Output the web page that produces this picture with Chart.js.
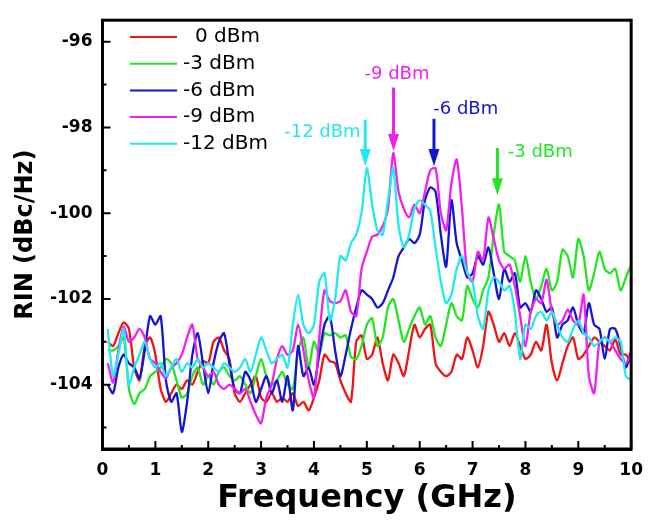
<!DOCTYPE html>
<html>
<head>
<meta charset="utf-8">
<script src="https://cdn.jsdelivr.net/npm/chart.js@4.4.1/dist/chart.umd.min.js"></script>
<style>
  html, body { margin: 0; padding: 0; background: #fff; }
</style>
</head>
<body>
<canvas id="chart" width="654" height="521"></canvas>
<script>
'use strict';

// frequency grid (GHz)
const freqGHz = [0.1, 0.2, 0.3, 0.4, 0.5, 0.6, 0.7, 0.8, 0.9, 1.0,
  1.1, 1.2, 1.3, 1.4, 1.5, 1.6, 1.7, 1.8, 1.9, 2.0,
  2.1, 2.2, 2.3, 2.4, 2.5, 2.6, 2.7, 2.8, 2.9, 3.0,
  3.1, 3.2, 3.3, 3.4, 3.5, 3.6, 3.7, 3.8, 3.9, 4.0,
  4.1, 4.2, 4.3, 4.4, 4.5, 4.6, 4.7, 4.8, 4.9, 5.0,
  5.1, 5.2, 5.3, 5.4, 5.5, 5.6, 5.7, 5.8, 5.9, 6.0,
  6.1, 6.2, 6.3, 6.4, 6.5, 6.6, 6.7, 6.8, 6.9, 7.0,
  7.1, 7.2, 7.3, 7.4, 7.5, 7.6, 7.7, 7.8, 7.9, 8.0,
  8.1, 8.2, 8.3, 8.4, 8.5, 8.6, 8.7, 8.8, 8.9, 9.0,
  9.1, 9.2, 9.3, 9.4, 9.5, 9.6, 9.7, 9.8, 9.9, 10.0];

// RIN (dBc/Hz) per optical power
const rin0dBm = [-103.0, -103.1, -102.8, -102.55, -102.7, -103.6, -103.9, -103.1, -102.9, -103.3,
  -104.1, -104.4, -104.2, -104.0, -104.1, -103.9, -104.0, -103.7, -103.45, -103.5,
  -103.0, -102.9, -103.2, -103.4, -104.2, -104.4, -104.2, -104.0, -103.8, -104.3,
  -104.4, -104.2, -104.4, -104.3, -104.4, -104.2, -104.5, -104.4, -104.6, -104.3,
  -103.9, -103.3, -103.45, -103.5, -103.9, -104.2, -104.4, -103.0, -102.85, -103.4,
  -103.3, -102.9, -103.5, -103.9, -103.3, -103.5, -103.8, -103.2, -102.6, -102.9,
  -102.7, -102.6, -103.5, -103.7, -103.8, -103.7, -103.3, -103.4, -102.9, -103.2,
  -103.6, -103.1, -102.3, -102.6, -103.0, -102.8, -103.1, -102.8, -103.1, -103.4,
  -103.3, -103.0, -103.2, -102.6, -103.5, -103.9, -103.5, -103.1, -102.9, -103.4,
  -103.3, -103.1, -102.9, -103.0, -103.1, -103.2, -102.95, -103.3, -103.3, -103.5];

const rinM3dBm = [-103.2, -103.2, -103.1, -102.9, -104.1, -104.45, -104.2, -104.1, -103.8, -103.7,
  -103.6, -103.4, -103.5, -103.9, -104.3, -104.2, -103.8, -103.6, -104.0, -103.8,
  -104.0, -103.7, -103.6, -103.8, -103.9, -103.8, -104.0, -104.2, -103.8, -103.4,
  -103.8, -104.0, -103.9, -103.7, -104.0, -104.1, -103.2, -102.9, -103.6, -103.0,
  -103.3, -102.8, -102.85, -102.8, -102.9, -102.85, -103.35, -103.4, -103.1, -102.6,
  -102.45, -103.1, -102.9, -102.2, -102.0, -102.5, -103.0, -102.7, -102.4, -102.2,
  -102.6, -102.4, -102.9, -103.1, -102.6, -102.1, -102.4, -102.5, -101.7, -102.0,
  -102.2, -101.8, -101.5, -100.5, -99.8, -100.9, -101.0, -101.1, -101.6, -101.0,
  -101.6, -102.0, -101.7, -101.3, -101.8, -101.6, -100.85, -101.0, -101.5, -100.6,
  -101.0, -101.8, -101.4, -100.9, -101.3, -101.4, -101.3, -101.8, -101.5, -101.2];

const rinM6dBm = [-104.0, -104.2, -103.6, -103.3, -103.5, -103.6, -103.85, -103.2, -102.4, -102.6,
  -102.4, -103.9, -104.4, -104.2, -105.1, -104.4, -103.3, -102.8, -103.5, -104.2,
  -103.5, -103.0, -102.8, -103.5, -104.1, -104.2, -103.7, -103.9, -104.4, -104.1,
  -103.8, -104.2, -103.9, -104.4, -103.8, -104.6, -103.1, -103.8, -103.6, -104.0,
  -103.3, -102.6, -102.4, -103.2, -103.8, -103.3, -102.7, -102.2, -101.8, -101.9,
  -102.0, -102.2, -102.1, -101.8, -101.5, -101.0, -100.8, -100.6, -100.7, -100.5,
  -99.7, -99.4, -99.5, -100.5, -101.25, -99.7, -100.7, -101.1, -101.5, -101.4,
  -101.0, -101.2, -100.8, -101.4, -102.0, -101.3, -101.6, -101.4, -102.2, -102.1,
  -102.3, -101.8, -102.0, -102.3, -102.2, -102.9, -102.6, -102.5, -102.2, -102.6,
  -102.8, -102.1, -102.6, -102.7, -103.4, -102.7, -102.7, -103.1, -103.6, -103.2];

const rinM9dBm = [-103.5, -103.95, -103.2, -102.65, -103.0, -102.9, -102.7, -102.9, -103.4, -103.5,
  -103.7, -103.85, -103.6, -103.5, -103.3, -102.9, -102.6, -103.4, -103.6, -103.8,
  -103.7, -104.0, -104.1, -104.0, -104.1, -104.2, -104.1, -104.4, -104.7, -104.9,
  -104.3, -104.0, -103.4, -103.1, -103.3, -103.2, -102.6, -103.2, -103.9, -104.3,
  -102.9, -101.8, -102.05, -102.1, -102.05, -101.8, -102.3, -102.4, -101.3, -100.9,
  -100.55, -100.5, -100.3, -99.9, -98.6, -99.5, -99.9, -100.1, -99.8, -100.0,
  -99.5, -99.0, -98.95, -100.0, -100.4, -99.3, -98.75, -99.9, -101.4, -101.6,
  -100.9, -101.1, -100.1, -100.6, -101.1, -101.3, -101.2, -101.7, -102.4, -103.1,
  -102.3, -102.0, -102.1, -101.55, -102.3, -102.6, -102.5, -102.25, -102.5, -102.6,
  -101.9, -103.8, -104.2, -103.0, -102.9, -103.0, -103.2, -103.4, -103.5, -103.3];

const rinM12dBm = [-102.7, -103.8, -103.3, -102.7, -104.0, -103.6, -103.3, -103.0, -103.4, -103.6,
  -103.5, -103.8, -103.6, -103.4, -103.7, -103.5, -103.6, -103.4, -103.6, -103.5,
  -103.6, -103.7, -103.5, -103.6, -103.7, -103.6, -103.4, -103.7, -103.3, -102.9,
  -103.2, -103.5, -103.4, -103.3, -103.6, -102.6, -101.9, -102.6, -102.8, -102.6,
  -101.6, -101.4, -102.5, -102.0, -101.0, -101.1, -100.7, -100.5, -100.0, -98.95,
  -99.8, -100.4, -100.5, -99.7, -98.95, -100.3, -100.8, -100.5, -99.9, -99.7,
  -99.8, -99.95, -100.8, -101.6, -102.1, -101.9, -101.3, -101.0, -101.4, -101.6,
  -102.4, -102.7, -101.8, -101.5, -101.6, -101.8, -101.7, -102.3, -103.4, -102.6,
  -102.7, -102.4, -102.3, -102.5, -102.3, -102.6, -102.9, -103.0, -102.7, -102.5,
  -102.8, -102.9, -103.1, -103.0, -102.9, -103.0, -102.9, -103.0, -103.8, -103.9];

const seriesLabels = ['0 dBm', '-3 dBm', '-6 dBm', '-9 dBm', '-12 dBm'];
const seriesColors = ['#f01414', '#22e622', '#1414d2', '#f020f0', '#22e8f0'];

// axis ticks
const xTickValues = [0, 1, 2, 3, 4, 5, 6, 7, 8, 9, 10];
const xMinorValues = [0.5, 1.5, 2.5, 3.5, 4.5, 5.5, 6.5, 7.5, 8.5, 9.5];
const yTickValues = [-104, -102, -100, -98, -96];
const yMinorValues = [-105, -103, -101, -99, -97];

// peak markers: label, frequency, arrow top, arrow tip, label position
const markLabels = ['-12 dBm', '-9 dBm', '-6 dBm', '-3 dBm'];
const markColors = ['#22e8f0', '#f020f0', '#1414d2', '#22e622'];
const markFreq = [4.97, 5.505, 6.27, 7.47];
const markTop = [-97.82, -97.07, -97.8, -98.48];
const markTip = [-98.9, -98.55, -98.9, -99.58];
const markTextX = [4.16, 5.57, 6.87, 8.28];
const markTextY = [-98.12, -96.77, -97.57, -98.58];

const seriesData = [rin0dBm, rinM3dBm, rinM6dBm, rinM9dBm, rinM12dBm];

const datasets = seriesData.map((vals, i) => ({
  label: seriesLabels[i],
  data: vals.map((v, j) => ({ x: freqGHz[j], y: v })),
  borderColor: seriesColors[i],
  backgroundColor: seriesColors[i],
  borderWidth: 2.3,
  pointRadius: 0,
  tension: 0.25,
  order: 5 - i,
}));

const decorPlugin = {
  id: 'decor',
  afterDraw(chart) {
    const ctx = chart.ctx;
    const area = chart.chartArea;
    const xs = chart.scales.x;
    const ys = chart.scales.y;
    ctx.save();

    // frame
    ctx.strokeStyle = '#000';
    ctx.lineWidth = 3;
    ctx.strokeRect(area.left, area.top, area.right - area.left, area.bottom - area.top);

    // inward ticks
    ctx.lineWidth = 2;
    ctx.beginPath();
    xTickValues.forEach(v => {
      const px = xs.getPixelForValue(v);
      ctx.moveTo(px, area.bottom); ctx.lineTo(px, area.bottom - 8);
    });
    xMinorValues.forEach(v => {
      const px = xs.getPixelForValue(v);
      ctx.moveTo(px, area.bottom); ctx.lineTo(px, area.bottom - 4);
    });
    yTickValues.forEach(v => {
      const py = ys.getPixelForValue(v);
      ctx.moveTo(area.left, py); ctx.lineTo(area.left + 8, py);
    });
    yMinorValues.forEach(v => {
      const py = ys.getPixelForValue(v);
      ctx.moveTo(area.left, py); ctx.lineTo(area.left + 4, py);
    });
    ctx.stroke();

    // legend
    ctx.font = '20px "DejaVu Sans"';
    ctx.textBaseline = 'middle';
    ctx.textAlign = 'left';
    chart.data.datasets.forEach((ds, i) => {
      const y = 37 + i * 26.7;
      ctx.strokeStyle = ds.borderColor;
      ctx.lineWidth = 2;
      ctx.beginPath();
      ctx.moveTo(130, y); ctx.lineTo(177, y);
      ctx.stroke();
      ctx.fillStyle = '#000';
      const indent = ds.label.startsWith('-') ? 0 : 12;
      ctx.fillText(ds.label, 183 + indent, y);
    });

    // peak arrows
    ctx.font = '18px "DejaVu Sans"';
    ctx.textAlign = 'center';
    markLabels.forEach((lab, i) => {
      const px = xs.getPixelForValue(markFreq[i]);
      const top = ys.getPixelForValue(markTop[i]);
      const tip = ys.getPixelForValue(markTip[i]);
      ctx.strokeStyle = markColors[i];
      ctx.fillStyle = markColors[i];
      ctx.lineWidth = 3;
      ctx.beginPath();
      ctx.moveTo(px, top); ctx.lineTo(px, tip - 14);
      ctx.stroke();
      ctx.beginPath();
      ctx.moveTo(px - 5.5, tip - 17);
      ctx.lineTo(px + 5.5, tip - 17);
      ctx.lineTo(px, tip);
      ctx.closePath();
      ctx.fill();
      ctx.fillText(lab, xs.getPixelForValue(markTextX[i]), ys.getPixelForValue(markTextY[i]));
    });
    ctx.restore();
  }
};

new Chart(document.getElementById('chart'), {
  type: 'line',
  data: { datasets: datasets },
  plugins: [decorPlugin],
  options: {
    responsive: false,
    animation: false,
    devicePixelRatio: 1,
    layout: { padding: { top: 11.4, right: 13.3, bottom: 0, left: 0 } },
    plugins: {
      legend: { display: false },
      tooltip: { enabled: false },
    },
    scales: {
      x: {
        type: 'linear',
        min: 0,
        max: 10,
        afterFit: (scale) => { scale.height = 72; },
        afterBuildTicks: (scale) => { scale.ticks = xTickValues.map(v => ({ value: v })); },
        grid: { display: false, drawTicks: false },
        border: { display: true, color: '#000', width: 3 },
        ticks: {
          padding: 11,
          color: '#000',
          font: { family: 'DejaVu Sans', size: 17, weight: 'bold' },
          maxRotation: 0,
        },
        title: {
          display: true,
          text: 'Frequency (GHz)',
          color: '#000',
          font: { family: 'DejaVu Sans', size: 32, weight: 'bold' },
          padding: { top: 0, bottom: 3 },
        },
      },
      y: {
        type: 'linear',
        min: -105.5,
        max: -95.5,
        afterFit: (scale) => { scale.width = 102.5; },
        afterBuildTicks: (scale) => { scale.ticks = yTickValues.map(v => ({ value: v })); },
        grid: { display: false, drawTicks: false },
        border: { display: true, color: '#000', width: 3 },
        ticks: {
          padding: 10,
          color: '#000',
          font: { family: 'DejaVu Sans', size: 17, weight: 'bold' },
        },
        title: {
          display: true,
          text: 'RIN (dBc/Hz)',
          color: '#000',
          font: { family: 'DejaVu Sans', size: 24, weight: 'bold' },
          padding: { top: 11, bottom: 0 },
        },
      },
    },
  },
});
</script>
</body>
</html>
